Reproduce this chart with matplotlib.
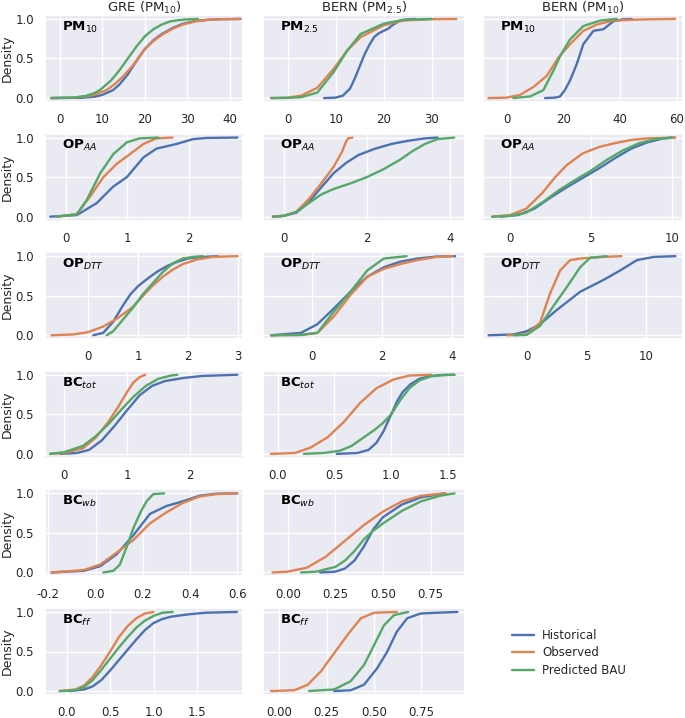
import matplotlib
matplotlib.use("Agg")
import matplotlib.pyplot as plt
import seaborn as sns

# cumulative density curves: label -> (x, y)
series = ["Historical", "Observed", "Predicted BAU"]
colors = ["#4C72B0", "#DD8452", "#55A868"]

col_titles = ["GRE (PM$_{10}$)", "BERN (PM$_{2.5}$)", "BERN (PM$_{10}$)"]

gre_pm10 = {
    "Historical": ([-2, 5, 8, 10, 12.5, 14, 16, 18.4, 20, 22, 24, 26.7, 29, 32, 35, 38, 42.5],
                   [0, 0.003, 0.015, 0.04, 0.1, 0.17, 0.3, 0.5, 0.62, 0.73, 0.81, 0.89, 0.94, 0.975, 0.99, 0.997, 1.0]),
    "Observed": ([-2, 3, 6, 8, 11, 13, 15, 17, 18.4, 20, 22, 24, 26.7, 29, 32, 35, 38, 42.5],
                 [0, 0.005, 0.02, 0.04, 0.1, 0.18, 0.28, 0.4, 0.5, 0.62, 0.72, 0.8, 0.88, 0.93, 0.97, 0.99, 0.997, 1.0]),
    "Predicted BAU": ([-2, 3, 6, 8, 9.4, 12, 14, 16, 18, 20, 22, 24, 26, 28, 30, 32.5],
                      [0, 0.005, 0.025, 0.06, 0.1, 0.22, 0.35, 0.5, 0.65, 0.78, 0.87, 0.93, 0.97, 0.985, 0.995, 1.0]),
}
bern25_pm25 = {
    "Historical": ([7.6, 10, 11.5, 13, 14, 15, 16, 17, 18, 19, 20, 21, 22, 23.5, 25, 26.5],
                   [0, 0.005, 0.03, 0.12, 0.25, 0.4, 0.55, 0.67, 0.77, 0.82, 0.85, 0.88, 0.93, 0.98, 0.995, 1.0]),
    "Observed": ([-3.4, 0, 2.8, 6.2, 9.6, 12.4, 15.2, 20, 24.1, 30, 35.1],
                 [0, 0.005, 0.03, 0.13, 0.37, 0.6, 0.77, 0.92, 0.98, 0.997, 1.0]),
    "Predicted BAU": ([-3.4, 0, 2.8, 6.2, 9.6, 12.4, 15.2, 20, 24.1, 30],
                      [0, 0.002, 0.01, 0.07, 0.33, 0.6, 0.81, 0.94, 0.99, 1.0]),
}
bern10_pm10 = {
    "Historical": ([13.5, 17, 18.8, 20.5, 22.3, 24.7, 27, 30.6, 34.1, 37.6, 41, 44.1],
                   [0, 0.005, 0.02, 0.1, 0.22, 0.43, 0.68, 0.85, 0.87, 0.97, 0.995, 1.0]),
    "Observed": ([-6.5, 0, 4.7, 9.4, 14.1, 18.2, 22.3, 27, 31.8, 37.6, 45, 50, 59.4],
                 [0, 0.005, 0.04, 0.14, 0.28, 0.51, 0.68, 0.85, 0.93, 0.98, 0.99, 0.995, 1.0]),
    "Predicted BAU": ([2.3, 8.2, 12.9, 16.5, 18.8, 22.3, 27, 33, 38.8],
                      [0, 0.02, 0.1, 0.35, 0.53, 0.74, 0.91, 0.98, 1.0]),
}
gre_opaa = {
    "Historical": ([-0.25, 0.18, 0.5, 0.77, 0.99, 1.26, 1.47, 1.8, 2.06, 2.28, 2.78],
                   [0, 0.02, 0.17, 0.38, 0.5, 0.75, 0.86, 0.92, 0.98, 0.995, 1.0]),
    "Observed": ([-0.15, 0.18, 0.4, 0.61, 0.83, 1.04, 1.26, 1.47, 1.73],
                 [0, 0.03, 0.26, 0.5, 0.67, 0.79, 0.92, 0.99, 1.0]),
    "Predicted BAU": ([-0.15, 0.18, 0.34, 0.56, 0.77, 0.99, 1.2, 1.5],
                      [0, 0.03, 0.21, 0.55, 0.79, 0.94, 0.99, 1.0]),
}
bern25_opaa = {
    "Historical": ([-0.26, 0, 0.3, 0.6, 0.9, 1.2, 1.5, 1.8, 2.2, 2.6, 3.0, 3.4, 3.7],
                   [0, 0.01, 0.05, 0.18, 0.37, 0.55, 0.68, 0.78, 0.86, 0.92, 0.96, 0.99, 1.0]),
    "Observed": ([-0.26, 0, 0.3, 0.6, 0.9, 1.2, 1.4, 1.5, 1.55, 1.65],
                 [0, 0.01, 0.06, 0.22, 0.42, 0.63, 0.82, 0.95, 0.99, 1.0]),
    "Predicted BAU": ([-0.26, 0, 0.3, 0.6, 0.9, 1.2, 1.6, 2.0, 2.4, 2.8, 3.1, 3.4, 3.7, 4.1],
                      [0, 0.01, 0.06, 0.17, 0.28, 0.35, 0.42, 0.5, 0.6, 0.72, 0.83, 0.92, 0.98, 1.0]),
}
bern10_opaa = {
    "Historical": ([-0.6, 0.5, 1.5, 2.5, 3.5, 4.5, 5.5, 6.5, 7.5, 8.5, 9.5, 10.2],
                   [0, 0.02, 0.1, 0.24, 0.37, 0.49, 0.61, 0.74, 0.86, 0.94, 0.99, 1.0]),
    "Observed": ([-1.1, 0, 1, 2, 2.8, 3.5, 4.5, 5.5, 6.5, 7.5, 8.5, 10.2],
                 [0, 0.02, 0.1, 0.3, 0.5, 0.65, 0.8, 0.88, 0.93, 0.97, 0.99, 1.0]),
    "Predicted BAU": ([-1.1, 0, 1, 2, 3, 4, 5, 6, 7, 8, 9, 10],
                      [0, 0.01, 0.05, 0.18, 0.33, 0.46, 0.58, 0.72, 0.84, 0.93, 0.98, 1.0]),
}
gre_opdtt = {
    "Historical": ([0.1, 0.3, 0.5, 0.7, 0.85, 1.0, 1.2, 1.4, 1.6, 1.8, 2.0, 2.3, 2.6],
                   [0, 0.03, 0.17, 0.38, 0.52, 0.62, 0.72, 0.81, 0.88, 0.93, 0.97, 0.99, 1.0]),
    "Observed": ([-0.74, -0.3, 0, 0.3, 0.6, 0.9, 1.1, 1.3, 1.5, 1.7, 1.9, 2.2, 2.5, 3.0],
                 [0, 0.01, 0.04, 0.11, 0.22, 0.36, 0.5, 0.63, 0.74, 0.83, 0.9, 0.96, 0.99, 1.0]),
    "Predicted BAU": ([0.37, 0.5, 0.7, 0.9, 1.1, 1.3, 1.5, 1.7, 1.9, 2.1, 2.3],
                      [0, 0.05, 0.2, 0.35, 0.52, 0.66, 0.8, 0.91, 0.97, 0.99, 1.0]),
}
bern25_opdtt = {
    "Historical": ([-1.16, -0.31, 0.16, 0.63, 1.1, 1.58, 2.05, 2.52, 3.0, 3.55, 4.08],
                   [0, 0.03, 0.14, 0.34, 0.55, 0.74, 0.86, 0.93, 0.97, 0.995, 1.0]),
    "Observed": ([-1.16, -0.31, 0.16, 0.63, 1.1, 1.58, 2.05, 2.52, 3.0, 3.55, 4.0],
                 [0, 0.004, 0.03, 0.24, 0.51, 0.74, 0.84, 0.9, 0.95, 0.99, 1.0]),
    "Predicted BAU": ([-1.16, -0.31, 0.16, 0.63, 1.1, 1.58, 2.05, 2.7],
                      [0, 0.004, 0.03, 0.3, 0.55, 0.82, 0.97, 1.0]),
}
bern10_opdtt = {
    "Historical": ([-3.2, -1.12, 0, 1.12, 2.52, 4.48, 6.44, 7.84, 9.24, 10.64, 12.46],
                   [0, 0.01, 0.05, 0.14, 0.32, 0.55, 0.7, 0.82, 0.95, 0.99, 1.0]),
    "Observed": ([-1.6, 0, 1.12, 1.96, 2.8, 3.64, 4.48, 6.4, 7.93],
                 [0, 0.01, 0.16, 0.53, 0.82, 0.95, 0.97, 0.99, 1.0]),
    "Predicted BAU": ([-1.1, 0, 1.12, 2.24, 3.36, 4.48, 5.32, 6.7],
                      [0, 0.005, 0.12, 0.37, 0.61, 0.86, 0.98, 1.0]),
}
gre_bctot = {
    "Historical": ([-0.06, 0.2, 0.4, 0.6, 0.8, 1.0, 1.2, 1.4, 1.6, 1.9, 2.2, 2.75],
                   [0, 0.01, 0.05, 0.17, 0.35, 0.55, 0.74, 0.86, 0.92, 0.96, 0.985, 1.0]),
    "Observed": ([-0.22, 0, 0.3, 0.5, 0.7, 0.85, 1.0, 1.1, 1.2, 1.29],
                 [0, 0.01, 0.07, 0.2, 0.4, 0.58, 0.78, 0.9, 0.97, 1.0]),
    "Predicted BAU": ([-0.22, 0, 0.3, 0.5, 0.7, 0.9, 1.1, 1.3, 1.5, 1.7, 1.8],
                      [0, 0.02, 0.1, 0.22, 0.37, 0.55, 0.72, 0.86, 0.95, 0.99, 1.0]),
}
bern25_bctot = {
    "Historical": ([0.52, 0.7, 0.8, 0.87, 0.93, 1.0, 1.05, 1.1, 1.17, 1.25, 1.35, 1.45, 1.55],
                   [0, 0.01, 0.05, 0.14, 0.28, 0.5, 0.66, 0.78, 0.88, 0.95, 0.985, 0.997, 1.0]),
    "Observed": ([-0.06, 0.15, 0.29, 0.44, 0.58, 0.73, 0.87, 1.02, 1.16, 1.35],
                 [0, 0.01, 0.08, 0.21, 0.4, 0.65, 0.83, 0.94, 0.99, 1.0]),
    "Predicted BAU": ([0.23, 0.4, 0.55, 0.65, 0.75, 0.85, 0.92, 1.0, 1.08, 1.16, 1.25, 1.35, 1.45, 1.56],
                      [0, 0.01, 0.04, 0.1, 0.2, 0.3, 0.38, 0.5, 0.68, 0.83, 0.93, 0.98, 0.995, 1.0]),
}
gre_bcwb = {
    "Historical": ([-0.186, -0.05, 0.02, 0.089, 0.16, 0.23, 0.3, 0.37, 0.44, 0.51, 0.6],
                   [0, 0.02, 0.08, 0.23, 0.47, 0.74, 0.84, 0.9, 0.97, 0.995, 1.0]),
    "Observed": ([-0.186, -0.05, 0.02, 0.089, 0.16, 0.23, 0.3, 0.37, 0.44, 0.51, 0.6],
                 [0, 0.03, 0.1, 0.25, 0.41, 0.62, 0.76, 0.88, 0.96, 0.99, 1.0]),
    "Predicted BAU": ([0.033, 0.075, 0.103, 0.13, 0.16, 0.19, 0.216, 0.244, 0.29],
                      [0, 0.02, 0.1, 0.31, 0.56, 0.76, 0.9, 0.99, 1.0]),
}
bern25_bcwb = {
    "Historical": ([0.17, 0.25, 0.3, 0.35, 0.4, 0.45, 0.5, 0.6, 0.7, 0.8, 0.82],
                   [0, 0.01, 0.05, 0.15, 0.33, 0.55, 0.7, 0.86, 0.95, 0.99, 1.0]),
    "Observed": ([-0.08, 0.0, 0.1, 0.2, 0.3, 0.4, 0.5, 0.6, 0.7, 0.8, 0.83],
                 [0, 0.01, 0.06, 0.2, 0.4, 0.6, 0.77, 0.9, 0.97, 0.995, 1.0]),
    "Predicted BAU": ([0.07, 0.15, 0.25, 0.3, 0.35, 0.4, 0.45, 0.5, 0.6, 0.7, 0.8, 0.875],
                      [0, 0.01, 0.07, 0.15, 0.27, 0.42, 0.53, 0.62, 0.78, 0.9, 0.97, 1.0]),
}
gre_bcff = {
    "Historical": ([0.03, 0.2, 0.3, 0.4, 0.5, 0.6, 0.7, 0.8, 0.9, 1.0, 1.1, 1.2, 1.4, 1.6, 1.96],
                   [0, 0.02, 0.06, 0.14, 0.26, 0.39, 0.52, 0.65, 0.77, 0.86, 0.91, 0.94, 0.97, 0.99, 1.0]),
    "Observed": ([-0.08, 0.1, 0.2, 0.3, 0.4, 0.5, 0.6, 0.7, 0.8, 0.9, 1.0],
                 [0, 0.02, 0.07, 0.18, 0.33, 0.5, 0.68, 0.82, 0.92, 0.98, 1.0]),
    "Predicted BAU": ([-0.08, 0.1, 0.2, 0.3, 0.4, 0.5, 0.6, 0.7, 0.8, 0.9, 1.0, 1.1, 1.22],
                      [0, 0.01, 0.05, 0.14, 0.27, 0.41, 0.55, 0.68, 0.8, 0.89, 0.95, 0.99, 1.0]),
}
bern25_bcff = {
    "Historical": ([0.29, 0.377, 0.447, 0.517, 0.57, 0.62, 0.675, 0.745, 0.83, 0.94],
                   [0, 0.01, 0.08, 0.29, 0.5, 0.75, 0.92, 0.98, 0.99, 1.0]),
    "Observed": ([-0.044, 0.079, 0.15, 0.22, 0.29, 0.36, 0.43, 0.5, 0.62],
                 [0, 0.01, 0.08, 0.25, 0.48, 0.71, 0.92, 0.99, 1.0]),
    "Predicted BAU": ([0.158, 0.29, 0.377, 0.447, 0.5, 0.552, 0.605, 0.68],
                      [0, 0.02, 0.125, 0.33, 0.58, 0.83, 0.96, 1.0]),
}

row_labels = [r"$\mathbf{PM}_{10}$", r"$\mathbf{OP}_{AA}$", r"$\mathbf{OP}_{DTT}$",
              r"$\mathbf{BC}_{tot}$", r"$\mathbf{BC}_{wb}$", r"$\mathbf{BC}_{ff}$"]
first_row_labels = [r"$\mathbf{PM}_{10}$", r"$\mathbf{PM}_{2.5}$", r"$\mathbf{PM}_{10}$"]

panels = [
    [gre_pm10, bern25_pm25, bern10_pm10],
    [gre_opaa, bern25_opaa, bern10_opaa],
    [gre_opdtt, bern25_opdtt, bern10_opdtt],
    [gre_bctot, bern25_bctot, None],
    [gre_bcwb, bern25_bcwb, None],
    [gre_bcff, bern25_bcff, None],
]

xticks = [
    [[0, 10, 20, 30, 40], [0, 10, 20, 30], [0, 20, 40, 60]],
    [[0, 1, 2], [0, 2, 4], [0, 5, 10]],
    [[0, 1, 2, 3], [0, 2, 4], [0, 5, 10]],
    [[0, 1, 2], [0.0, 0.5, 1.0, 1.5], None],
    [[-0.2, 0.0, 0.2, 0.4, 0.6], [0.00, 0.25, 0.50, 0.75], None],
    [[0.0, 0.5, 1.0, 1.5], [0.00, 0.25, 0.50, 0.75], None],
]
xtick_fmt = [
    ["%d", "%d", "%d"], ["%d", "%d", "%d"], ["%d", "%d", "%d"],
    ["%d", "%.1f", None], ["%.1f", "%.2f", None], ["%.1f", "%.2f", None],
]
xlims = [
    [(-3.5, 43.1), (-5.1, 36.9), (-8.4, 62.2)],
    [(-0.335, 2.87), (-0.5, 4.36), (-1.67, 10.7)],
    [(-0.87, 3.11), (-1.39, 4.36), (-3.67, 13.1)],
    [(-0.3, 2.84), (-0.13, 1.65), None],
    [(-0.214, 0.624), (-0.13, 0.93), None],
    [(-0.25, 2.03), (-0.086, 0.98), None],
]

sns.set_theme(style="darkgrid")
W, H = 685, 718
fig = plt.figure(figsize=(W / 100, H / 100), dpi=100)

lefts = [45, 263, 483]
widths = [198, 202, 200]
lines = []
for r in range(6):
    top = 15 + 118.6 * r
    for c in range(3):
        data = panels[r][c]
        if data is None:
            continue
        ax = fig.add_axes([lefts[c] / W, 1 - (top + 87) / H, widths[c] / W, 87 / H])
        for name, col in zip(series, colors):
            xs, ys = data[name]
            ln, = ax.plot(xs, ys, color=col, lw=1.7, label=name,
                          solid_joinstyle="round", solid_capstyle="round")
            if r == 0 and c == 0:
                lines.append(ln)
        ax.set_xlim(*xlims[r][c])
        ax.set_ylim(-0.05, 1.05)
        ax.set_xticks(xticks[r][c])
        ax.set_xticklabels([xtick_fmt[r][c] % v for v in xticks[r][c]], fontsize=8.5)
        ax.set_yticks([0, 0.5, 1.0])
        if c == 0:
            ax.set_yticklabels(["0.0", "0.5", "1.0"], fontsize=8.5)
            ax.set_ylabel("Density", fontsize=9, labelpad=1)
        else:
            ax.set_yticklabels([])
        ax.tick_params(axis="x", pad=2)
        ax.tick_params(axis="y", pad=2)
        lab = first_row_labels[c] if r == 0 else row_labels[r]
        ax.text(0.085, 0.86, lab, transform=ax.transAxes, fontsize=9.5,
                ha="left", va="center", color="black")
        if r == 0:
            ax.set_title(col_titles[c], fontsize=9.5, pad=2)

fig.legend(lines, series, loc="center left", bbox_to_anchor=(501 / W, 1 - 653 / H),
           frameon=False, fontsize=8.5, handlelength=1.9, labelspacing=0.35,
           handletextpad=0.7)

fig.savefig("out.png", dpi=100)
